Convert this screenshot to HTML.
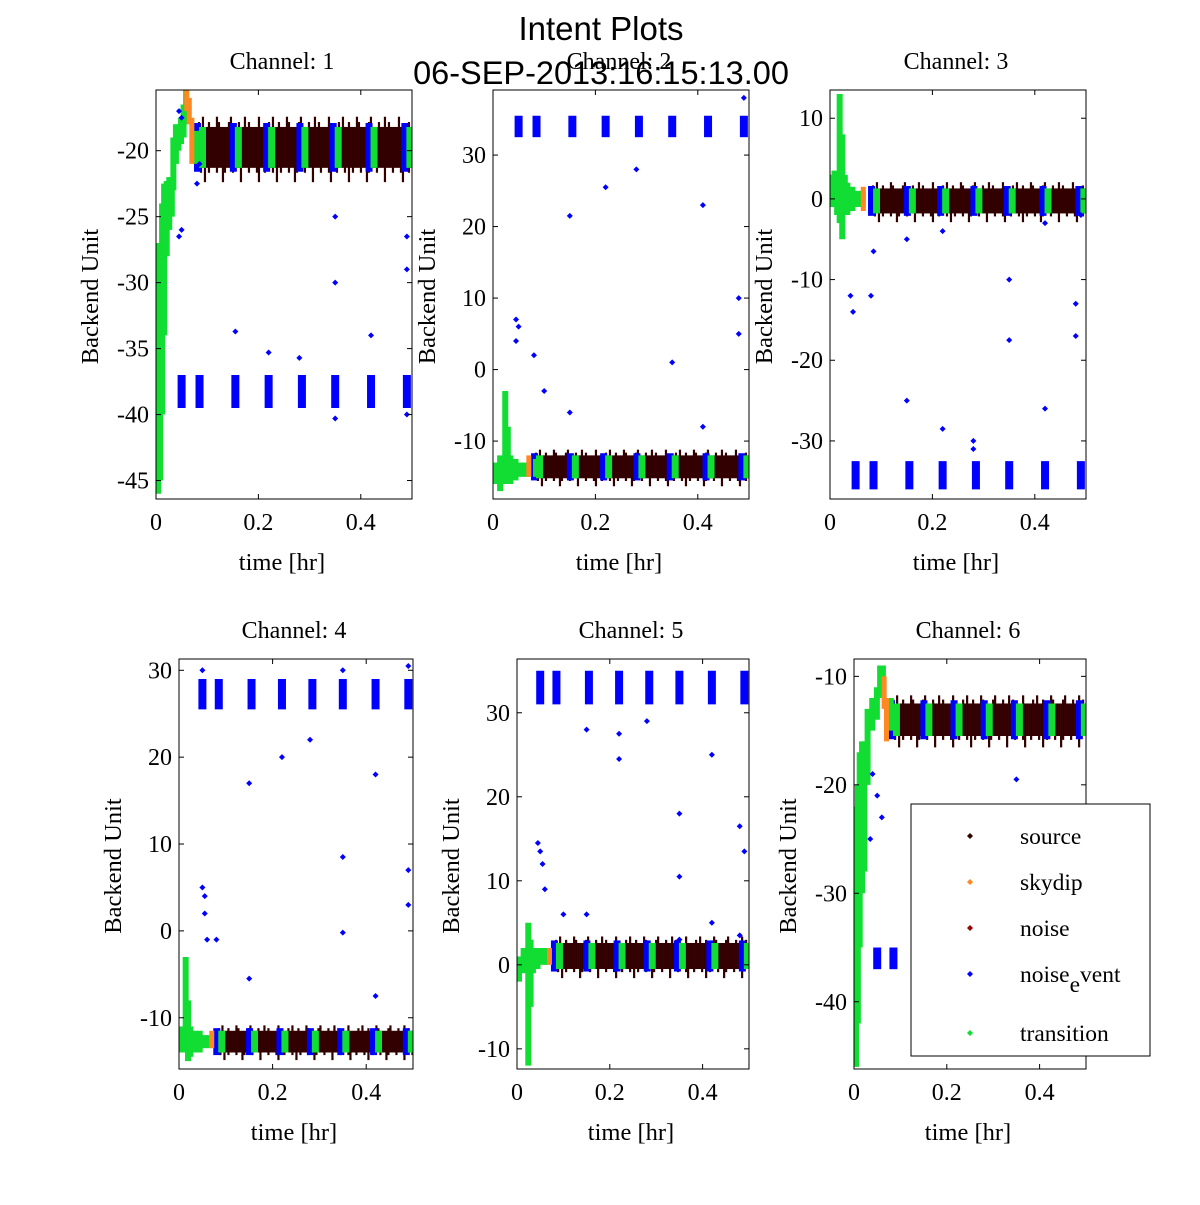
<!DOCTYPE html>
<html><head><meta charset="utf-8"><style>
html,body{margin:0;padding:0;background:#fff;}
svg text{font-family:"Liberation Serif",serif;}
</style></head><body>
<svg id="chart" width="1200" height="1200" viewBox="0 0 1200 1200" xmlns="http://www.w3.org/2000/svg">
<text x="601" y="40" text-anchor="middle" font-size="33" style="font-family:'Liberation Sans',sans-serif">Intent Plots</text>
<text x="601" y="84" text-anchor="middle" font-size="32.5" style="font-family:'Liberation Sans',sans-serif">06-SEP-2013:16:15:13.00</text>
<g id="plots"></g>
<g id="legend">
<rect x="911" y="804" width="239" height="252" fill="#fff" stroke="#000" stroke-width="1"/>
</g>
</svg>
<script>
const channels = ["1","2","3","4","5","6"];
const xTicks = [0, 0.2, 0.4];
const yTicks = [[-20,-25,-30,-35,-40,-45],[30,20,10,0,-10],[10,0,-10,-20,-30],[30,20,10,0,-10],[30,20,10,0,-10],[-10,-20,-30,-40]];
const yRanges = [[-46.4,-15.4],[-18.1,39.1],[-37.2,13.5],[-15.9,31.3],[-12.4,36.4],[-46.2,-8.4]];
const sourceBands = [[-21.3,-18.2],[-15.2,-12],[-1.8,1.3],[-14,-11.5],[-0.5,2.6],[-15.5,-12.5]];
const noiseTimes = [0.05,0.085,0.155,0.22,0.285,0.35,0.42,0.49];
const noiseTimes6 = [0.05,0.085];
const noiseLevels = [[-39.5,-37],[32.5,35.5],[-36,-32.5],[25.5,29],[31,35],[-37,-35]];
const greenSegs = [
 [[0,-46,-27],[0.004,-45,-30],[0.008,-40,-24],[0.012,-34,-22.5],[0.017,-28,-22.3],[0.022,-26,-22],[0.027,-25,-22],[0.03,-23,-19],[0.035,-21,-18],[0.04,-20,-18],[0.045,-19.5,-17.5],[0.05,-19,-16.5],[0.055,-18,-15.3],[0.075,-21,-18.5]],
 [[0,-16,-13],[0.01,-17,-12],[0.02,-16,-3],[0.025,-15,-8],[0.03,-16,-12],[0.04,-15.5,-12.5],[0.05,-15,-13],[0.06,-15,-13],[0.08,-15,-12.5]],
 [[0,-1,3],[0.005,-1,3.5],[0.01,-2,2],[0.015,-3,13],[0.02,-5,8],[0.025,-1,3],[0.03,-2,2],[0.04,-1.5,1.5],[0.05,-1,1],[0.06,-1,1]],
 [[0,-14,-11],[0.01,-14,-3],[0.015,-15,-8],[0.02,-14.5,-11],[0.03,-14,-11.5],[0.04,-14,-11.5],[0.05,-13.5,-12],[0.06,-13.5,-12]],
 [[0,-2,1],[0.01,-1,2],[0.02,-12,5],[0.025,-5,3],[0.03,-1,2],[0.04,-0.5,2],[0.05,0,2],[0.06,0,2]],
 [[0,-46,-22],[0.004,-42,-20],[0.008,-35,-17],[0.013,-30,-16],[0.018,-28,-16],[0.025,-20,-13],[0.035,-15,-12],[0.045,-14,-11],[0.052,-12,-9],[0.058,-11,-9],[0.075,-15,-12]]
];
const orangeSegs = [
 [[0.06,-17,-15.3],[0.065,-18,-16],[0.07,-21,-17.5]],
 [[0.07,-15,-12]],
 [[0.065,-1.5,1.5]],
 [[0.07,-13.5,-11.5]],
 [[0.07,0,2]],
 [[0.065,-13,-10],[0.07,-16,-12]]
];
const outliers = [
 [[0.045,-17],[0.05,-17.5],[0.045,-26.5],[0.05,-26],[0.08,-22.5],[0.085,-21],[0.155,-33.7],[0.22,-35.3],[0.28,-35.7],[0.35,-30],[0.35,-25],[0.35,-40.3],[0.42,-34],[0.49,-26.5],[0.49,-29],[0.49,-40]],
 [[0.045,7],[0.05,6],[0.045,4],[0.08,2],[0.1,-3],[0.15,-6],[0.15,21.5],[0.22,25.5],[0.28,28],[0.35,1],[0.41,23],[0.41,-8],[0.48,10],[0.48,5],[0.49,38]],
 [[0.04,-12],[0.045,-14],[0.08,-12],[0.085,-6.5],[0.15,-5],[0.15,-25],[0.22,-4],[0.22,-28.5],[0.28,-30],[0.28,-31],[0.35,-10],[0.35,-17.5],[0.35,-37.5],[0.42,-26],[0.42,-3],[0.48,-13],[0.48,-17],[0.49,-2]],
 [[0.05,5],[0.055,4],[0.055,2],[0.06,-1],[0.08,-1],[0.15,-5.5],[0.15,17],[0.22,20],[0.28,22],[0.35,-0.2],[0.35,8.5],[0.35,30],[0.42,18],[0.42,-7.5],[0.49,7],[0.49,3],[0.49,30.5],[0.05,30]],
 [[0.045,14.5],[0.05,13.5],[0.055,12],[0.06,9],[0.1,6],[0.15,6],[0.15,28],[0.22,24.5],[0.22,27.5],[0.28,29],[0.35,18],[0.35,10.5],[0.35,3],[0.42,25],[0.42,5],[0.48,16.5],[0.49,13.5],[0.48,3.5]],
 [[0.04,-19],[0.05,-21],[0.06,-23],[0.035,-25],[0.35,-19.5]]
];
const legendLabels = ["source","skydip","noise","noise_event","transition"];
const legendColors = ["#330000","#ff8822","#990000","#0000ff","#11dd33"];

const boxes = [[156,90,256,409],[493,90,256,409],[830,90,256,409],[179,659,234,410],[517,659,232,410],[854,659,232,410]];
const NS = "http://www.w3.org/2000/svg";
function mk(tag, attrs, parent){const e=document.createElementNS(NS,tag);for(const k in attrs)e.setAttribute(k,attrs[k]);parent.appendChild(e);return e;}
const plots = document.getElementById('plots');
const GREEN="#11dd33", ORANGE="#ff8822", BROWN="#330000", BLUE="#0000ff";

boxes.forEach((b,i)=>{
  const [bx,by,bw,bh]=b;
  const g = mk('g',{},plots);
  
  
  const clipId='clip'+i;
  const cp=mk('clipPath',{id:clipId},g); mk('rect',{x:bx,y:by,width:bw,height:bh},cp);
  const xs=t=>bx+t/0.5*bw;
  const [y0,y1]=yRanges[i];
  const ys=v=>by+bh-(v-y0)/(y1-y0)*bh;
  const data=mk('g',{'clip-path':'url(#'+clipId+')'},g);
  
  
  const [slo,shi]=sourceBands[i];
  const span=shi-slo;
  let k=0;
  for(let px=xs(0.08); px<=bx+bw; px+=2,k++){
    const up=(k%7===3)?span*0.25:((k%5===1)?span*0.12:0);
    const dn=(k%9===4)?span*0.35:((k%4===2)?span*0.12:0);
    const l=mk('line',{x1:px,x2:px,y1:ys(shi+up),y2:ys(slo-dn),stroke:BROWN,'stroke-width':2.2},data);
    
    
  }
  const nt = i===5?noiseTimes6:noiseTimes;
  nt.forEach(t=>{
    const [nlo,nhi]=noiseLevels[i];
    const l=mk('line',{x1:xs(t),x2:xs(t),y1:ys(nhi),y2:ys(nlo),stroke:BLUE,'stroke-width':8},data);
    
    
  });
  noiseTimes.filter(t=>t>0.08).forEach(t=>{
    const l=mk('line',{x1:xs(t)-2,x2:xs(t)-2,y1:ys(shi+0.3),y2:ys(slo-0.3),stroke:BLUE,'stroke-width':7},data);
    
    
    const l2=mk('line',{x1:xs(t)+3,x2:xs(t)+3,y1:ys(shi),y2:ys(slo),stroke:GREEN,'stroke-width':7},data);
    
    
  });
  greenSegs[i].forEach(s=>{
    const l=mk('line',{x1:xs(s[0])+2,x2:xs(s[0])+2,y1:ys(s[2]),y2:ys(s[1]),stroke:GREEN,'stroke-width':6},data);
    
    
  });
  orangeSegs[i].forEach(s=>{
    const l=mk('line',{x1:xs(s[0]),x2:xs(s[0]),y1:ys(s[2]),y2:ys(s[1]),stroke:ORANGE,'stroke-width':5},data);
    
    
  });
  outliers[i].forEach(p=>{
    const x=xs(p[0]),y=ys(p[1]);
    const d=mk('path',{d:`M${x},${y-3}l3,3l-3,3l-3,-3z`,fill:BLUE},data);
    
    
  });
  const fr=mk('rect',{x:bx,y:by,width:bw,height:bh,fill:'none',stroke:'#000','stroke-width':1},g);
  
  
  xTicks.forEach(t=>{
    const x=xs(t);
    mk('line',{x1:x,x2:x,y1:by+bh,y2:by+bh-5,stroke:'#000'},g);
    mk('line',{x1:x,x2:x,y1:by,y2:by+5,stroke:'#000'},g);
    const tx=mk('text',{x:x,y:by+bh+31,'text-anchor':'middle','font-size':24},g);
    tx.textContent=t===0?'0':t.toFixed(1);
    
    
  });
  yTicks[i].forEach(v=>{
    const y=ys(v);
    mk('line',{x1:bx,x2:bx+5,y1:y,y2:y,stroke:'#000'},g);
    mk('line',{x1:bx+bw,x2:bx+bw-5,y1:y,y2:y,stroke:'#000'},g);
    const tx=mk('text',{x:bx-7,y:y+8,'text-anchor':'end','font-size':24},g);
    tx.textContent=v<0?'-'+Math.abs(v):String(v);
    
    
  });
  const tt=mk('text',{x:bx+bw/2-2,y:by-21,'text-anchor':'middle','font-size':24},g);
  tt.textContent='Channel: '+channels[i];
  
  
  const xl=mk('text',{x:bx+bw/2-2,y:by+bh+71,'text-anchor':'middle','font-size':24.5},g);
  xl.textContent='time [hr]';
  
  
  const yx=bx-58, yy=by+bh/2+2;
  const yl=mk('text',{x:yx,y:yy,'text-anchor':'middle','font-size':24.5,transform:`rotate(-90 ${yx} ${yy})`},g);
  yl.textContent='Backend Unit';
  
  
});

const leg=document.getElementById('legend');
const legY=[836,882,928,974,1033];
legendLabels.forEach((lab,k)=>{
  const y=legY[k];
  const m=mk('path',{d:`M970,${y-3}l3,3l-3,3l-3,-3z`,fill:legendColors[k]},leg);
  
  
  const t=mk('text',{x:1020,y:y+8,'font-size':23.5},leg);
  
  
  if(lab==='noise_event'){
    t.appendChild(document.createTextNode('noise'));
    const s1=mk('tspan',{dy:10},t); s1.textContent='e';
    const s2=mk('tspan',{dy:-10},t); s2.textContent='vent';
  } else t.textContent=lab;
});
</script>
</body></html>
